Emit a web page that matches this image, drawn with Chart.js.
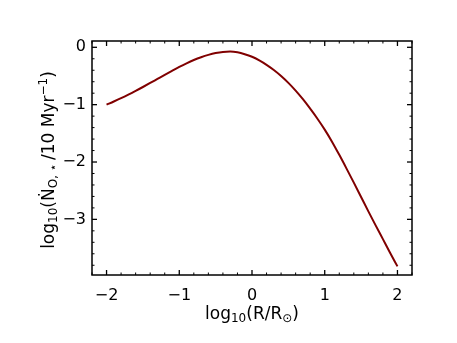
<!DOCTYPE html>
<html>
<head>
<meta charset="utf-8">
<script src="https://cdn.jsdelivr.net/npm/chart.js@4"></script>
<style>body{margin:0;background:#fff}</style>
</head>
<body>
<canvas id="myChart" width="457" height="343"></canvas>
<script>
// Datos
const radios = [-2.0, -1.9, -1.8, -1.7, -1.6, -1.5, -1.4, -1.3, -1.2, -1.1, -1.0,
    -0.9, -0.8, -0.7, -0.6, -0.5, -0.4, -0.3, -0.2, -0.1, 0.0,
    0.1, 0.2, 0.3, 0.4, 0.5, 0.6, 0.7, 0.8, 0.9, 1.0,
    1.1, 1.2, 1.3, 1.4, 1.5, 1.6, 1.7, 1.8, 1.9, 2.0];
const tasas = [-1.00, -0.945, -0.887, -0.825, -0.76, -0.692, -0.622, -0.551, -0.48, -0.41, -0.342,
    -0.279, -0.222, -0.173, -0.132, -0.10, -0.08, -0.075, -0.088, -0.12, -0.165,
    -0.228, -0.305, -0.395, -0.50, -0.62, -0.755, -0.905, -1.07, -1.245, -1.435,
    -1.645, -1.875, -2.115, -2.36, -2.61, -2.86, -3.105, -3.345, -3.585, -3.82];
const ticksX = [-2, -1, 0, 1, 2];
const ticksY = [0, -1, -2, -3];

const fuente = 'DejaVu Sans';
const menos = v => String(v).replace('-', '\u2212');

// Texto con subindices y superindices
function anchoPartes(ctx, partes) {
    let w = 0;
    partes.forEach(p => {
        ctx.font = (p.s ? 12 : 17) + 'px "' + fuente + '"';
        w += ctx.measureText(p.t).width;
    });
    return w;
}
function dibujarPartes(ctx, partes, cx, cy) {
    let x = cx - anchoPartes(ctx, partes) / 2;
    ctx.textBaseline = 'alphabetic';
    ctx.textAlign = 'left';
    partes.forEach(p => {
        ctx.font = (p.s ? 12 : 17) + 'px "' + fuente + '"';
        let dy = p.s === 'sub' ? 3 : (p.s === 'sup' ? -7 : 0);
        ctx.fillText(p.t, x, cy + dy);
        x += ctx.measureText(p.t).width;
    });
}

const tituloX = [{t: 'log'}, {t: '10', s: 'sub'}, {t: '(R/R'}, {t: '\u2299', s: 'sub'}, {t: ')'}];
const tituloY = [{t: 'log'}, {t: '10', s: 'sub'}, {t: '(\u1E44'}, {t: 'O, \u22C6 ', s: 'sub'},
    {t: '/10 Myr'}, {t: '\u22121', s: 'sup'}, {t: ')'}];

// Marco, ticks hacia dentro y titulos de ejes
const marcoPlugin = {
    id: 'marco',
    afterDraw(chart) {
        const {ctx, chartArea: a, scales: {x, y}} = chart;
        ctx.save();
        ctx.strokeStyle = '#000';

        function tick(px, py, dx, dy) {
            ctx.beginPath();
            ctx.moveTo(px, py);
            ctx.lineTo(px + dx, py + dy);
            ctx.stroke();
        }
        // menores
        ctx.lineWidth = 1;
        for (let i = -11; i <= 11; i++) {
            if (i % 5 === 0) continue;
            let px = x.getPixelForValue(i / 5);
            tick(px, a.bottom, 0, -2.5);
            tick(px, a.top, 0, 2.5);
        }
        for (let i = -19; i <= 0; i++) {
            if (i % 5 === 0) continue;
            let py = y.getPixelForValue(i / 5);
            tick(a.left, py, 2.5, 0);
            tick(a.right, py, -2.5, 0);
        }
        // mayores
        ctx.lineWidth = 1.3;
        ticksX.forEach(v => {
            let px = x.getPixelForValue(v);
            tick(px, a.bottom, 0, -5);
            tick(px, a.top, 0, 5);
        });
        ticksY.forEach(v => {
            let py = y.getPixelForValue(v);
            tick(a.left, py, 5, 0);
            tick(a.right, py, -5, 0);
        });
        ctx.lineWidth = 1.5;
        ctx.strokeRect(a.left, a.top, a.right - a.left, a.bottom - a.top);

        ctx.fillStyle = '#000';
        dibujarPartes(ctx, tituloX, (a.left + a.right) / 2, 319);
        ctx.translate(54, (a.top + a.bottom) / 2 + 2);
        ctx.rotate(-Math.PI / 2);
        dibujarPartes(ctx, tituloY, 0, 0);
        ctx.restore();
    }
};

let ctx = document.getElementById('myChart').getContext('2d');
let graficoChart = new Chart(ctx, {
    type: 'scatter',
    data: {
        datasets: [{
            data: radios.map((r, i) => ({x: r, y: tasas[i]})),
            showLine: true,
            borderColor: '#800000',
            borderWidth: 2,
            pointRadius: 0,
            cubicInterpolationMode: 'monotone',
            fill: false
        }]
    },
    options: {
        responsive: false,
        animation: false,
        layout: {padding: {left: 0, top: 41, right: 45, bottom: 0}},
        plugins: {legend: {display: false}, tooltip: {enabled: false}},
        scales: {
            x: {
                min: -2.2, max: 2.2,
                afterBuildTicks: s => { s.ticks = ticksX.map(v => ({value: v})); },
                afterFit: s => { s.height = 68; },
                grid: {display: false, drawTicks: false},
                border: {display: false},
                ticks: {color: '#000', padding: 11, font: {family: fuente, size: 16}, callback: menos}
            },
            y: {
                min: -3.97, max: 0.11,
                afterBuildTicks: s => { s.ticks = ticksY.map(v => ({value: v})); },
                afterFit: s => { s.width = 92; },
                grid: {display: false, drawTicks: false},
                border: {display: false},
                ticks: {color: '#000', padding: 6, font: {family: fuente, size: 16}, callback: menos}
            }
        }
    },
    plugins: [marcoPlugin]
});
</script>
</body>
</html>
